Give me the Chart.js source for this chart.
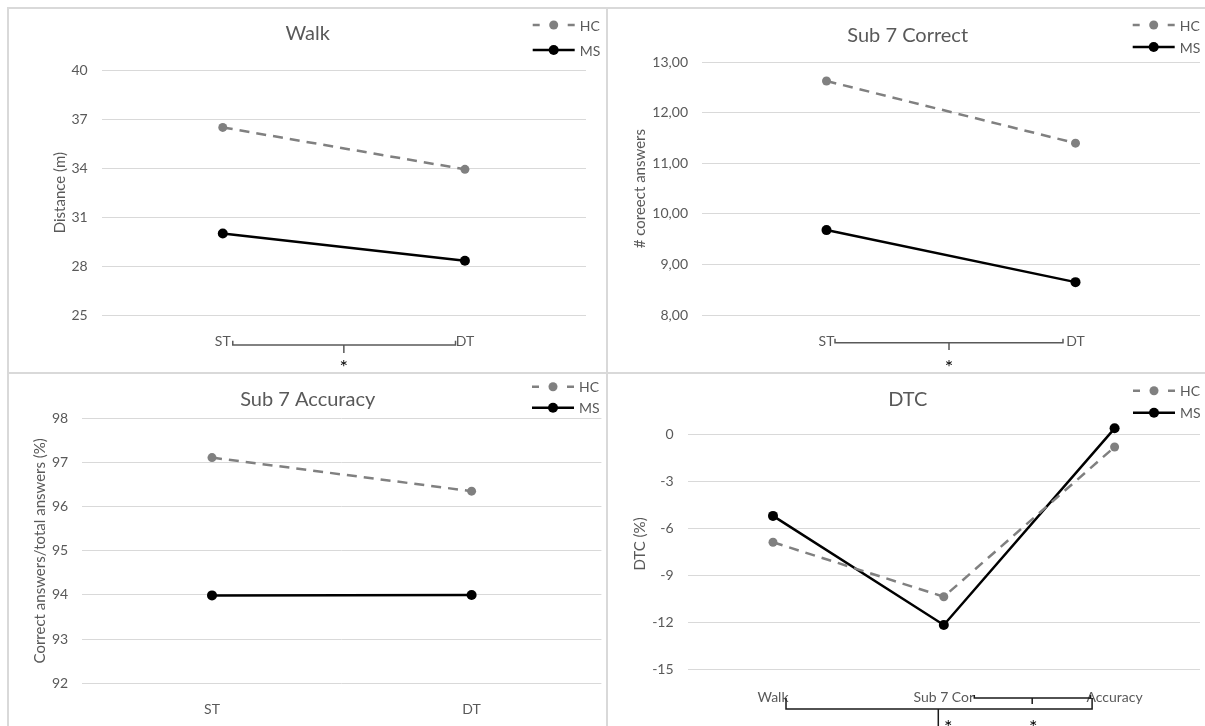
<!DOCTYPE html>
<html>
<head>
<meta charset="utf-8">
<script src="https://cdn.jsdelivr.net/npm/chart.js@4.4.1/dist/chart.umd.min.js"></script>
<style>
  html, body { margin: 0; padding: 0; background: #fff; }
  body { width: 1205px; height: 726px; position: relative; overflow: hidden; }
  .panel { position: absolute; }
  .rule { position: absolute; background: #d9d9d9; }
</style>
</head>
<body>
<div class="panel" style="left:0;top:0"><canvas id="walk" width="607" height="373"></canvas></div>
<div class="panel" style="left:607px;top:0"><canvas id="correct" width="598" height="373"></canvas></div>
<div class="panel" style="left:0;top:373px"><canvas id="accuracy" width="607" height="353"></canvas></div>
<div class="panel" style="left:607px;top:373px"><canvas id="dtc" width="598" height="353"></canvas></div>

<div class="rule" style="left:7px;top:7px;width:1198px;height:2px"></div>
<div class="rule" style="left:7px;top:7px;width:2px;height:719px"></div>
<div class="rule" style="left:606px;top:7px;width:2px;height:719px"></div>
<div class="rule" style="left:7px;top:372px;width:1198px;height:2px"></div>

<script>
// categories
const phases = ['ST', 'DT'];
const dtcTasks = ['Walk', 'Sub 7 Cor', 'Accuracy'];

// series values
const walkHC = [36.5, 33.93];
const walkMS = [30.0, 28.33];
const correctHC = [12.63, 11.40];
const correctMS = [9.68, 8.65];
const accuracyHC = [97.11, 96.35];
const accuracyMS = [93.99, 94.0];
const dtcHC = [-6.89, -10.37, -0.81];
const dtcMS = [-5.21, -12.17, 0.38];

// axis ranges: [min, max, step]
const walkAxis = [25, 40, 3];
const correctAxis = [8, 13, 1];
const accuracyAxis = [92, 98, 1];
const dtcAxis = [-15, 1, 3];

const FONT = 'Lato, "Open Sans", sans-serif';
const TEXT = '#595959';
const GREY = '#808080';
const GRID = '#d9d9d9';

Chart.defaults.font.family = FONT;

// legend glyphs, significance brackets and asterisks
const marks = {
  id: 'marks',
  afterDraw(chart, args, opts) {
    const { ctx, chartArea, scales: { x } } = chart;
    const px = (at) => x.getPixelForValue(at[0]) + at[1];
    ctx.save();

    // legend
    const lg = opts.legend;
    chart.data.datasets.forEach((ds, i) => {
      const y = lg.y[i];
      ctx.strokeStyle = ds.borderColor;
      ctx.fillStyle = ds.borderColor;
      ctx.lineWidth = ds.borderWidth;
      ctx.beginPath();
      if (ds.borderDash) {
        ctx.moveTo(lg.x, y); ctx.lineTo(lg.x + 7, y);
        ctx.moveTo(lg.x + 35, y); ctx.lineTo(lg.x + 42, y);
      } else {
        ctx.moveTo(lg.x, y); ctx.lineTo(lg.x + 42, y);
      }
      ctx.stroke();
      ctx.beginPath();
      ctx.arc(lg.x + 21, y, ds.pointRadius, 0, Math.PI * 2);
      ctx.fill();
      ctx.fillStyle = TEXT;
      ctx.font = '14px ' + FONT;
      ctx.textAlign = 'left';
      ctx.textBaseline = 'middle';
      ctx.fillText(ds.label, lg.x + 47, y + 1);
    });

    // brackets below the axis
    (opts.brackets || []).forEach(b => {
      const y = chartArea.bottom + b.dy;
      const x0 = px(b.from), x1 = px(b.to), m = px(b.mid);
      ctx.strokeStyle = b.color;
      ctx.lineWidth = 1.5;
      ctx.beginPath();
      ctx.moveTo(x0, y - b.up); ctx.lineTo(x0, y); ctx.lineTo(x1, y); ctx.lineTo(x1, y - b.up);
      ctx.moveTo(m, y); ctx.lineTo(m, y + b.down);
      ctx.stroke();
    });

    // asterisks
    ctx.fillStyle = '#000';
    ctx.textAlign = 'center';
    ctx.textBaseline = 'alphabetic';
    (opts.stars || []).forEach(s => {
      const sx = s.at ? px(s.at) : s.x;
      const sy = s.at ? chartArea.bottom + s.dy : s.y;
      ctx.font = s.size + 'px ' + FONT;
      ctx.fillText('*', sx, sy + s.size * 0.56);
    });
    ctx.restore();
  }
};

function makeChart(id, p) {
  return new Chart(document.getElementById(id), {
    type: 'line',
    data: {
      labels: p.labels,
      datasets: [
        {
          label: 'HC', data: p.hc,
          borderColor: GREY, backgroundColor: GREY,
          borderWidth: 2.5, borderDash: [10, 7],
          pointRadius: 4.5, pointBorderWidth: 0, pointBackgroundColor: GREY,
          tension: 0, clip: false
        },
        {
          label: 'MS', data: p.ms,
          borderColor: '#000', backgroundColor: '#000',
          borderWidth: 2.5,
          pointRadius: 5, pointBorderWidth: 0, pointBackgroundColor: '#000',
          tension: 0, clip: false
        }
      ]
    },
    options: {
      responsive: false,
      animation: false,
      layout: { padding: { left: p.padL, right: p.padR, top: 0, bottom: 0 } },
      plugins: {
        legend: { display: false },
        tooltip: { enabled: false },
        title: {
          display: true, text: p.title, color: TEXT,
          font: { size: 20, weight: 'normal' },
          padding: { top: p.titleTop, bottom: p.titleBottom }
        },
        marks: { legend: p.legend, brackets: p.brackets, stars: p.stars }
      },
      scales: {
        x: {
          offset: true,
          grid: { display: false },
          border: { display: false },
          ticks: { color: TEXT, font: { size: 14 }, padding: p.xPad, maxRotation: 0, autoSkip: false },
          afterFit: s => { s.height = p.xHeight; }
        },
        y: {
          min: p.axis[0], max: p.axis[1],
          grid: { color: GRID, lineWidth: 1, drawTicks: false },
          border: { display: false },
          ticks: {
            stepSize: p.axis[2], includeBounds: false, padding: 14,
            color: TEXT, font: { size: 14 },
            callback: p.fmt || (v => String(v))
          },
          title: {
            display: true, text: p.yTitle, color: TEXT,
            font: { size: 15 },
            padding: { top: p.yTitlePad, bottom: 0 }
          },
          afterFit: s => { s.width = p.yWidth; }
        }
      }
    },
    plugins: [marks]
  });
}

makeChart('walk', {
  labels: phases, hc: walkHC, ms: walkMS, axis: walkAxis,
  title: 'Walk', yTitle: 'Distance (m)',
  padL: 29.4, padR: 21, yWidth: 72.3, yTitlePad: 21.5,
  titleTop: 22, titleBottom: 24.3, xHeight: 58, xPad: 10,
  legend: { x: 532.7, y: [25, 50] },
  brackets: [{ from: [0, 10], to: [1, -9.4], mid: [0.5, 0], dy: 30, up: 4.3, down: 8, color: TEXT }],
  stars: [{ at: [0.5, 0], dy: 48, size: 20 }, { x: 515.7, y: 38.3, size: 15 }]
});

makeChart('correct', {
  labels: phases, hc: correctHC, ms: correctMS, axis: correctAxis,
  title: 'Sub 7 Correct', yTitle: '# coreect answers',
  fmt: v => v.toFixed(2).replace('.', ','),
  padL: 6.4, padR: 3, yWidth: 88.6, yTitlePad: 18.2,
  titleTop: 24, titleBottom: 14.3, xHeight: 58, xPad: 10,
  legend: { x: 525.7, y: [25, 47] },
  brackets: [{ from: [0, 8.5], to: [1, -12.5], mid: [0.5, -2], dy: 27.7, up: 4, down: 7.3, color: TEXT }],
  stars: [{ at: [0.5, -2], dy: 48, size: 20 }]
});

makeChart('accuracy', {
  labels: phases, hc: accuracyHC, ms: accuracyMS, axis: accuracyAxis,
  title: 'Sub 7 Accuracy', yTitle: 'Correct answers/total answers (%)',
  padL: 14, padR: 5.6, yWidth: 68.2, yTitlePad: 17.6,
  titleTop: 15, titleBottom: 6.3, xHeight: 42.7, xPad: 10,
  legend: { x: 532, y: [13.7, 34.7] }
});

makeChart('dtc', {
  labels: dtcTasks, hc: dtcHC, ms: dtcMS, axis: dtcAxis,
  title: 'DTC', yTitle: 'DTC (%)',
  padL: 4.4, padR: 1, yWidth: 76.2, yTitlePad: 20.2,
  titleTop: 15, titleBottom: 6.6, xHeight: 56.7, xPad: 11.3,
  legend: { x: 526, y: [17.7, 39.7] },
  brackets: [
    { from: [0, 13], to: [2, -22.5], mid: [1, -5.5], dy: 39.7, up: 11, down: 20, color: '#1a1a1a' },
    { from: [1, 30.5], to: [2, -24], mid: [1.5, 3], dy: 28.7, up: 3, down: 6, color: '#1a1a1a' }
  ],
  stars: [{ at: [1, 4.5], dy: 53.7, size: 20 }, { at: [1.5, 4], dy: 53.7, size: 20 }]
});
</script>
</body>
</html>
